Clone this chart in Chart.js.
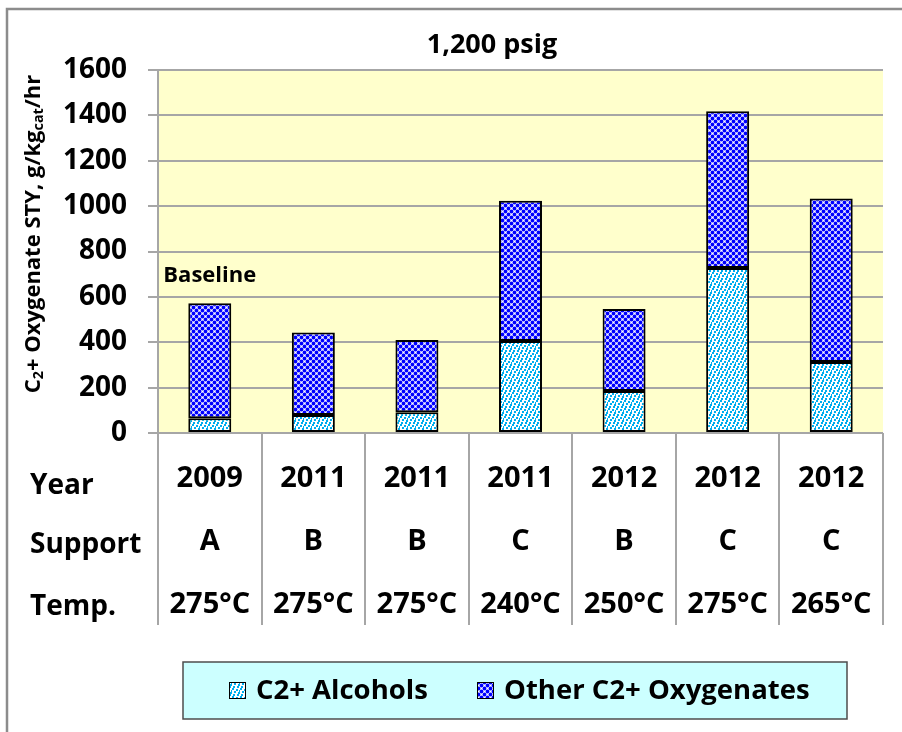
<!DOCTYPE html>
<html>
<head>
<meta charset="utf-8">
<script src="https://cdn.jsdelivr.net/npm/chart.js@4.4.1/dist/chart.umd.min.js"></script>
<style>
    body { margin: 0; background: #ffffff; }
    canvas { display: block; }
</style>
</head>
<body>
<canvas id="myChart" width="902" height="732"></canvas>
<script>
"use strict"

// data
const years = ["2009", "2011", "2011", "2011", "2012", "2012", "2012"]
const supports = ["A", "B", "B", "C", "B", "C", "C"]
const temps = ["275°C", "275°C", "275°C", "240°C", "250°C", "275°C", "265°C"]
const rowNames = ["Year", "Support", "Temp."]
const alcohols = [65, 79, 92, 406, 185, 727, 313]
const otherOxygenates = [507, 364, 318, 618, 362, 691, 721]
const seriesNames = ["C2+ Alcohols", "Other C2+ Oxygenates"]
const yMin = 0
const yMax = 1600
const yStep = 200
const chartTitle = "1,200 psig"
const baselineNote = "Baseline"
// y title pieces: [text, isSubscript]
const yTitleParts = [["C", false], ["2", true], ["+ Oxygenate STY, g/kg", false], ["cat", true], ["/hr", false]]

const FONT = "'Open Sans', 'DejaVu Sans', sans-serif"
Chart.defaults.font.family = FONT
Chart.defaults.color = '#000000'

function makeAlcoholPattern(ctx) {
    let c = document.createElement('canvas')
    c.width = 8
    c.height = 8
    let p = c.getContext('2d')
    p.fillStyle = '#ffffff'
    p.fillRect(0, 0, 8, 8)
    p.fillStyle = '#00aeef'
    let dots = [[0, 0], [4, 1], [2, 3], [6, 4], [1, 6], [5, 6], [7, 2]]
    for (let i = 0; i < dots.length; i++) {
        p.fillRect(dots[i][0], dots[i][1], 2, 2)
    }
    return ctx.createPattern(c, 'repeat')
}

function makeOtherPattern(ctx) {
    let c = document.createElement('canvas')
    c.width = 6
    c.height = 6
    let p = c.getContext('2d')
    p.fillStyle = '#ffffff'
    p.fillRect(0, 0, 6, 6)
    p.fillStyle = '#0000ff'
    let centers = [[1.5, 1.5], [4.5, 4.5], [-1.5, 4.5], [4.5, -1.5], [7.5, 1.5], [1.5, 7.5]]
    for (let i = 0; i < centers.length; i++) {
        p.beginPath()
        p.arc(centers[i][0], centers[i][1], 1.9, 0, Math.PI * 2)
        p.fill()
    }
    return ctx.createPattern(c, 'repeat')
}

function drawRichText(ctx, parts, size) {
    // draws centred at 0,0 along the current x direction
    let widths = []
    let total = 0
    for (let i = 0; i < parts.length; i++) {
        ctx.font = 'bold ' + (parts[i][1] ? size * 0.65 : size) + 'px ' + FONT
        let w = ctx.measureText(parts[i][0]).width
        widths.push(w)
        total += w
    }
    let x = -total / 2
    for (let i = 0; i < parts.length; i++) {
        ctx.font = 'bold ' + (parts[i][1] ? size * 0.65 : size) + 'px ' + FONT
        ctx.fillText(parts[i][0], x, parts[i][1] ? size * 0.22 : 0)
        x += widths[i]
    }
}

const decorPlugin = {
    id: 'decor',
    beforeDraw(chart) {
        const ctx = chart.ctx
        const area = chart.chartArea
        ctx.save()
        ctx.fillStyle = '#ffffff'
        ctx.fillRect(0, 0, chart.width, chart.height)
        ctx.strokeStyle = '#8c8c8c'
        ctx.lineWidth = 2.5
        ctx.strokeRect(7, 9, chart.width + 20, chart.height + 20)
        ctx.fillStyle = '#ffffcc'
        ctx.fillRect(area.left, area.top, area.right - area.left, area.bottom - area.top)
        ctx.restore()
    },
    afterDraw(chart) {
        const ctx = chart.ctx
        const xScale = chart.scales.x
        const yScale = chart.scales.y
        ctx.save()
        ctx.fillStyle = '#000000'
        ctx.textBaseline = 'middle'

        // title
        ctx.textAlign = 'center'
        ctx.font = 'bold 27px ' + FONT
        ctx.fillText(chartTitle, 492, 45)

        // baseline note over the first bar
        ctx.font = 'bold 22px ' + FONT
        let top0 = yScale.getPixelForValue(alcohols[0] + otherOxygenates[0])
        ctx.fillText(baselineNote, xScale.getPixelForValue(0), top0 - 27)

        // row names of the table under the axis
        ctx.textAlign = 'left'
        ctx.font = 'bold 28px ' + FONT
        let rowY = [486, 545, 607]
        for (let i = 0; i < rowNames.length; i++) {
            ctx.fillText(rowNames[i], 30, rowY[i])
        }

        // y axis title
        ctx.save()
        ctx.translate(34, 234)
        ctx.rotate(-Math.PI / 2)
        ctx.textAlign = 'left'
        ctx.textBaseline = 'middle'
        drawRichText(ctx, yTitleParts, 22)
        ctx.restore()

        // legend
        ctx.fillStyle = '#ccffff'
        ctx.fillRect(183, 662, 664, 57)
        ctx.strokeStyle = '#4d4d4d'
        ctx.lineWidth = 1.5
        ctx.strokeRect(183, 662, 664, 57)
        let itemX = [229, 477]
        ctx.font = 'bold 27.5px ' + FONT
        ctx.textAlign = 'left'
        for (let i = 0; i < chart.data.datasets.length; i++) {
            let ds = chart.data.datasets[i]
            ctx.fillStyle = ds.backgroundColor
            ctx.fillRect(itemX[i], 682, 17, 17)
            ctx.strokeStyle = '#000000'
            ctx.lineWidth = 1
            ctx.strokeRect(itemX[i] + 0.5, 682.5, 16, 16)
            ctx.fillStyle = '#000000'
            ctx.fillText(ds.label, itemX[i] + 27, 691)
        }
        ctx.restore()
    }
}

const ctx = document.getElementById('myChart').getContext('2d')
const labels = years.map((y, i) => [y, supports[i], temps[i]])

const myChart = new Chart(ctx, {
    type: 'bar',
    data: {
        labels: labels,
        datasets: [{
            label: seriesNames[0],
            data: alcohols,
            backgroundColor: makeAlcoholPattern(ctx),
            borderColor: '#000000',
            borderWidth: 2,
            borderSkipped: false
        }, {
            label: seriesNames[1],
            data: otherOxygenates,
            backgroundColor: makeOtherPattern(ctx),
            borderColor: '#000000',
            borderWidth: 2,
            borderSkipped: false
        }]
    },
    options: {
        responsive: false,
        animation: false,
        layout: {
            padding: { top: 70, right: 19, left: 0, bottom: 0 }
        },
        datasets: {
            bar: {
                categoryPercentage: 1,
                barPercentage: 0.415
            }
        },
        plugins: {
            legend: { display: false },
            title: { display: false },
            tooltip: { enabled: false }
        },
        scales: {
            x: {
                stacked: true,
                offset: true,
                afterFit: (scale) => { scale.height = 299 },
                grid: {
                    offset: true,
                    drawOnChartArea: false,
                    drawTicks: true,
                    tickLength: 192,
                    color: '#a6a6a6',
                    lineWidth: 2
                },
                border: { display: false },
                ticks: {
                    autoSkip: false,
                    maxRotation: 0,
                    minRotation: 0,
                    padding: -178,
                    color: '#000000',
                    font: { size: 29, weight: 'bold', lineHeight: '63px' }
                }
            },
            y: {
                stacked: true,
                min: yMin,
                max: yMax,
                afterFit: (scale) => { scale.width = 158 },
                grid: {
                    color: '#a6a6a6',
                    lineWidth: 2,
                    tickLength: 10
                },
                border: { display: true, color: '#a6a6a6', width: 2 },
                ticks: {
                    stepSize: yStep,
                    padding: 21,
                    color: '#000000',
                    font: { size: 28, weight: 'bold' },
                    callback: (value) => String(value)
                }
            }
        }
    },
    plugins: [decorPlugin]
})
</script>
</body>
</html>
